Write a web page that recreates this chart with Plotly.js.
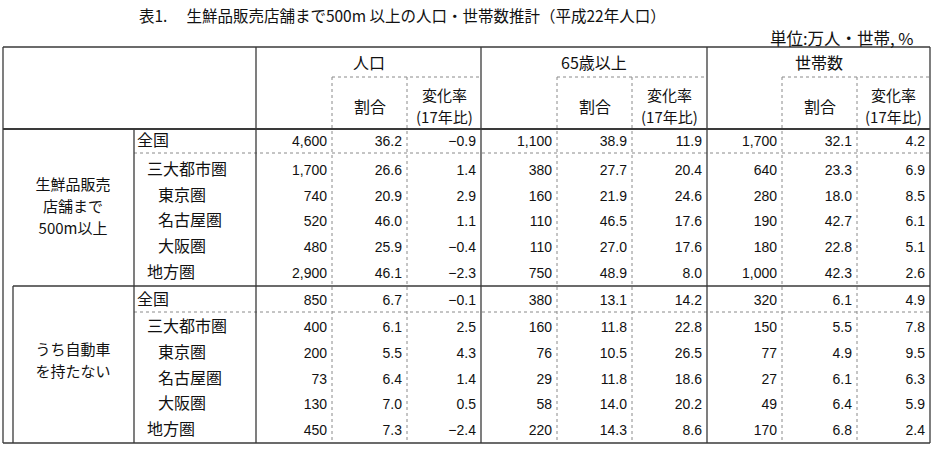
<!DOCTYPE html>
<html>
<head>
<meta charset="utf-8">
<script src="https://cdn.plot.ly/plotly-3.0.1.min.js"></script>
<style>html,body{margin:0;padding:0;background:#fff;}#chart{width:936px;height:452px;}</style>
</head>
<body>
<div id="chart"></div>
<script>
// ---- data ----
const titleText = '表1.　 生鮮品販売店舗まで500m 以上の人口・世帯数推計（平成22年人口）';
const unitText = '単位:万人・世帯, %';
const groupHeaders = ['人口', '65歳以上', '世帯数'];
const shareHeader = '割合';
const changeHeaderLines = ['変化率', '(17年比)'];
const section1Lines = ['生鮮品販売', '店舗まで', '500m以上'];
const section2Lines = ['うち自動車', 'を持たない'];
const rowLabels = ['全国', '三大都市圏', '東京圏', '名古屋圏', '大阪圏', '地方圏'];
const rowLevels = [0, 1, 2, 2, 2, 1];

// section 1: 生鮮品販売店舗まで500m以上
const pop500 = [4600, 1700, 740, 520, 480, 2900];
const popShare500 = [36.2, 26.6, 20.9, 46.0, 25.9, 46.1];
const popChg500 = [-0.9, 1.4, 2.9, 1.1, -0.4, -2.3];
const eld500 = [1100, 380, 160, 110, 110, 750];
const eldShare500 = [38.9, 27.7, 21.9, 46.5, 27.0, 48.9];
const eldChg500 = [11.9, 20.4, 24.6, 17.6, 17.6, 8.0];
const hh500 = [1700, 640, 280, 190, 180, 1000];
const hhShare500 = [32.1, 23.3, 18.0, 42.7, 22.8, 42.3];
const hhChg500 = [4.2, 6.9, 8.5, 6.1, 5.1, 2.6];

// section 2: うち自動車を持たない
const popNoCar = [850, 400, 200, 73, 130, 450];
const popShareNoCar = [6.7, 6.1, 5.5, 6.4, 7.0, 7.3];
const popChgNoCar = [-0.1, 2.5, 4.3, 1.4, 0.5, -2.4];
const eldNoCar = [380, 160, 76, 29, 58, 220];
const eldShareNoCar = [13.1, 11.8, 10.5, 11.8, 14.0, 14.3];
const eldChgNoCar = [14.2, 22.8, 26.5, 18.6, 20.2, 8.6];
const hhNoCar = [320, 150, 77, 27, 49, 170];
const hhShareNoCar = [6.1, 5.5, 4.9, 6.1, 6.4, 6.8];
const hhChgNoCar = [4.9, 7.8, 9.5, 6.3, 5.9, 2.4];

// ---- layout geometry ----
const sections = [
  [pop500, popShare500, popChg500, eld500, eldShare500, eldChg500, hh500, hhShare500, hhChg500],
  [popNoCar, popShareNoCar, popChgNoCar, eldNoCar, eldShareNoCar, eldChgNoCar, hhNoCar, hhShareNoCar, hhChgNoCar]
];
const sectionLines = [section1Lines, section2Lines];
const sectionLineY = [[186, 208, 230], [351, 373]];
const colDecimals = [0, 1, 1, 0, 1, 1, 0, 1, 1];
const colEdges = [256, 332, 407, 481, 557, 632, 707, 782, 857, 930];
const rowY = [[142, 171, 197, 222, 248, 274], [301, 328, 354, 380, 405, 431]];
const levelX = [137, 147, 158];

const CJK = '"Noto Sans CJK JP", "Noto Sans", sans-serif';
const NUM = '"Liberation Sans", Arial, sans-serif';
const TXT = '#111';

function fmt(v, dec) {
  const a = Math.abs(v);
  const s = dec ? a.toFixed(dec) : a.toLocaleString('en-US');
  return (v < 0 ? '−' : '') + s;
}

const traces = [];
sections.forEach((cols, s) => {
  cols.forEach((vals, c) => {
    traces.push({
      type: 'scatter', mode: 'text', hoverinfo: 'skip',
      x: vals.map(() => colEdges[c + 1] - 5),
      y: rowY[s],
      text: vals.map(v => fmt(v, colDecimals[c])),
      textposition: 'middle left',
      textfont: {family: NUM, size: 14, color: TXT}
    });
  });
  traces.push({
    type: 'scatter', mode: 'text', hoverinfo: 'skip',
    x: rowLevels.map(l => levelX[l]),
    y: rowY[s],
    text: rowLabels,
    textposition: 'middle right',
    textfont: {family: CJK, size: 16, color: TXT}
  });
  traces.push({
    type: 'scatter', mode: 'text', hoverinfo: 'skip',
    x: sectionLines[s].map(() => 73),
    y: sectionLineY[s],
    text: sectionLines[s],
    textposition: 'middle center',
    textfont: {family: CJK, size: 15, color: TXT}
  });
});

// ---- lines ----
const shapes = [];
const DARK = '#3a3a3a', DOT = '#8a8a8a';
function ln(x0, y0, x1, y1, color, w, dash) {
  shapes.push({type: 'line', xref: 'x', yref: 'y', x0, y0, x1, y1,
    line: {color, width: w, dash: dash || 'solid'}});
}
const TOP = 47, HMID = 77, HBOT = 129, SEC = 286, BOT = 443, LEFT = 3, RIGHT = 930;
ln(LEFT, TOP, RIGHT, TOP, DARK, 1.3);
ln(LEFT, HBOT, RIGHT, HBOT, DARK, 2);
ln(13, SEC, RIGHT, SEC, DARK, 1.3);
ln(LEFT, BOT, RIGHT, BOT, DARK, 1.3);
ln(134, 153, RIGHT, 153, DOT, 1, 'dot');
ln(134, 312, RIGHT, 312, DOT, 1, 'dot');
ln(LEFT, TOP, LEFT, BOT, DARK, 1.3);
ln(RIGHT, TOP, RIGHT, BOT, DARK, 1.3);
ln(13, SEC, 13, BOT, DARK, 1.3);
ln(134, HBOT, 134, BOT, DARK, 1.3);
[0, 3, 6].forEach(i => {
  ln(colEdges[i], TOP, colEdges[i], BOT, DARK, 1.3);
  ln(colEdges[i + 1], HMID, colEdges[i + 3], HMID, DOT, 1, 'dot');
  ln(colEdges[i + 1], HMID, colEdges[i + 1], BOT, DOT, 1, 'dot');
  ln(colEdges[i + 2], HMID, colEdges[i + 2], BOT, DOT, 1, 'dot');
});

// ---- header text ----
const annotations = [];
function ann(x, y, text, xanchor, size, font) {
  annotations.push({xref: 'x', yref: 'y', x, y, text, xanchor, yanchor: 'middle',
    showarrow: false, align: 'center', font: {family: font || CJK, size, color: TXT}});
}
ann(137, 15, titleText, 'left', 15.5);
ann(916, 38, unitText, 'right', 16.5);
groupHeaders.forEach((g, i) => {
  const a = colEdges[i * 3], b = colEdges[i * 3 + 3];
  ann((a + b) / 2, 62, g, 'center', 16);
  ann((colEdges[i * 3 + 1] + colEdges[i * 3 + 2]) / 2, 106, shareHeader, 'center', 16);
  const cx = (colEdges[i * 3 + 2] + colEdges[i * 3 + 3]) / 2;
  ann(cx, 94, changeHeaderLines[0], 'center', 15);
  ann(cx, 116, changeHeaderLines[1], 'center', 15);
});

const layout = {
  width: 936, height: 452,
  margin: {l: 0, r: 0, t: 0, b: 0, pad: 0},
  paper_bgcolor: '#fff', plot_bgcolor: '#fff',
  showlegend: false,
  xaxis: {range: [0, 936], visible: false, fixedrange: true},
  yaxis: {range: [452, 0], visible: false, fixedrange: true},
  shapes, annotations
};
Plotly.newPlot('chart', traces, layout, {displayModeBar: false, staticPlot: true});
</script>
</body>
</html>
